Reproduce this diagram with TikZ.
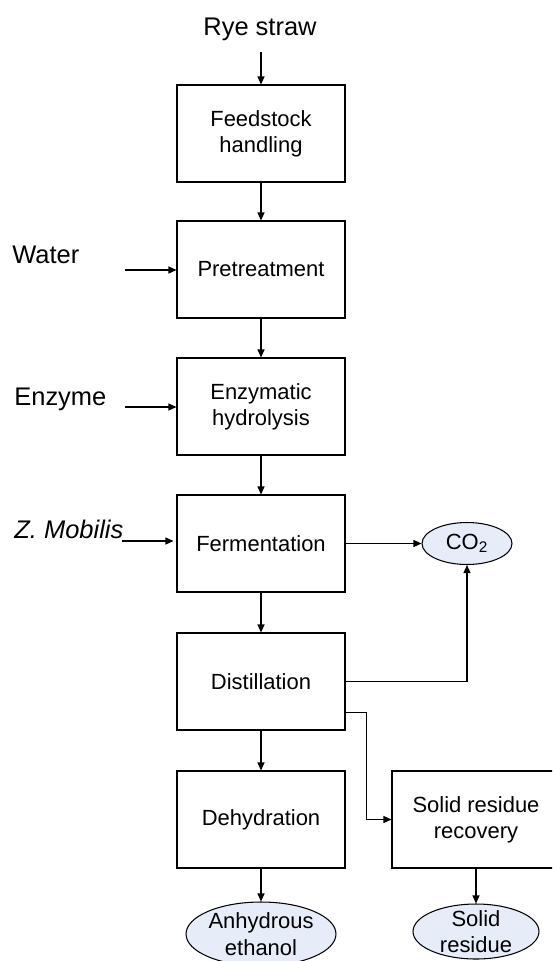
\documentclass[tikz,border=0pt]{standalone}
\usepackage{fontspec}
\setmainfont{Liberation Sans}
\usetikzlibrary{arrows.meta,shapes.geometric}
\definecolor{prodfill}{RGB}{230,236,248}

\begin{document}
\begin{tikzpicture}[x=0.02cm,y=-0.02cm,
  stage/.style={draw,line width=0.6pt,minimum width=3.36cm,minimum height=1.94cm,
    inner sep=0pt,align=center,font=\fontsize{12.5}{15}\selectfont},
  product/.style={ellipse,draw,line width=0.6pt,fill=prodfill,inner sep=0pt,
    align=center,font=\fontsize{12.5}{15}\selectfont},
  feed/.style={inner sep=0pt,font=\fontsize{14.5}{17}\selectfont},
  flow/.style={-{Triangle[length=1.6mm,width=1.4mm]},line width=0.6pt}]

\useasboundingbox (0,0) rectangle (552,961);
\clip (0,0) rectangle (552,961);

% process steps
\node[stage] (feedstock) at (261,133.5) {Feedstock\\handling};
\node[stage] (pretreat) at (261,269.5) {Pretreatment};
\node[stage] (hydrolysis) at (261,406.5) {Enzymatic\\hydrolysis};
\node[stage] (ferment) at (261,543.5) {Fermentation};
\node[stage] (distil) at (261,681.5) {Distillation};
\node[stage] (dehydr) at (261,819.5) {Dehydration};
\node[stage] (recovery) at (476,819.5) {Solid residue\\recovery};

% products
\node[product,minimum width=1.8cm,minimum height=0.84cm] (co2) at (467,543.5) {CO\textsubscript{2}};
\node[product,minimum width=3cm,minimum height=1.28cm] (ethanol) at (261,934) {Anhydrous\\ethanol};
\node[product,minimum width=2.52cm,minimum height=1.1cm,inner ysep=-1.3pt] (residue) at (476,931.5) {Solid\\residue};

% inputs
\node[feed,anchor=base] (rye) at (260,35) {Rye straw};
\node[feed,anchor=base west] (water) at (12,263) {Water};
\node[feed,anchor=base west] (enzyme) at (14,405) {Enzyme};
\node[feed,anchor=base west] (zmobilis) at (14,538) {\itshape Z. Mobilis};

\coordinate (rye-in) at (261,52);
\coordinate (water-in) at (125,270);
\coordinate (enzyme-in) at (125,407);
\coordinate (zmobilis-in) at (122,541);

\draw[flow] (rye-in) -- (feedstock.north);
\draw[flow] (water-in) -- (water-in -| pretreat.west);
\draw[flow] (enzyme-in) -- (enzyme-in -| hydrolysis.west);
\draw[flow,shorten >=0.06cm] (zmobilis-in) -- (zmobilis-in -| ferment.west);

% main line
\draw[flow] (feedstock) -- (pretreat);
\draw[flow] (pretreat) -- (hydrolysis);
\draw[flow] (hydrolysis) -- (ferment);
\draw[flow] (ferment) -- (distil);
\draw[flow] (distil) -- (dehydr);
\draw[flow] (dehydr) -- (ethanol);
\draw[flow] (recovery.south -| residue.north) -- (residue.north);

% side streams
\draw[flow] (ferment.east) -- (co2.west);
\draw[flow] (distil.east) -| (co2.south);
\draw[flow] ([yshift=-6.2mm]distil.east) -- ++(21,0) |- (recovery.west);
\end{tikzpicture}
\end{document}
